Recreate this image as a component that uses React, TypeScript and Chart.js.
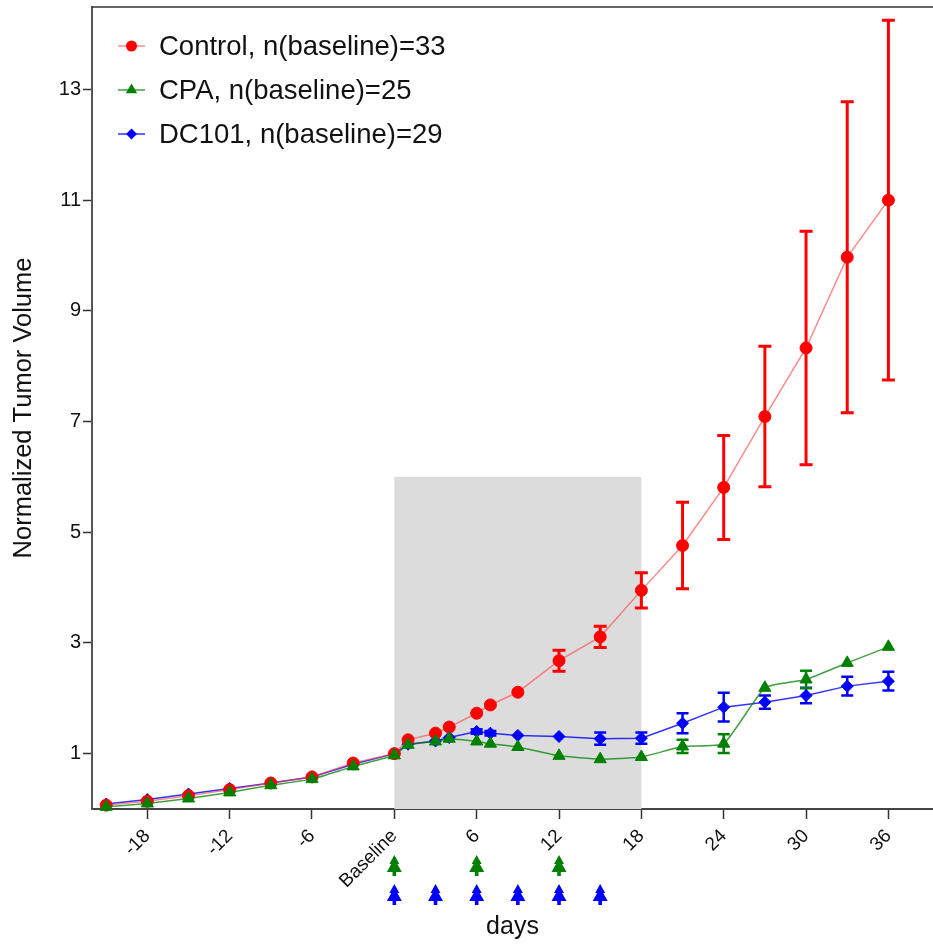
import React, { useEffect, useRef } from 'react';
import { Chart, registerables } from 'chart.js';

Chart.register(...registerables);

// ---------- data ----------
const days = [-21, -18, -15, -12, -9, -6, -3, 0, 1, 3, 4, 6, 7, 9, 12, 15, 18, 21, 24, 27, 30, 33, 36];
const controlMean = [0.07, 0.14, 0.24, 0.35, 0.47, 0.58, 0.83, 1.0, 1.25, 1.37, 1.48, 1.73, 1.88, 2.11, 2.68, 3.11, 3.95, 4.76, 5.81, 7.09, 8.33, 9.97, 11.0];
const controlErr = [0, 0, 0, 0, 0, 0, 0, 0, 0, 0, 0, 0, 0, 0, 0.19, 0.19, 0.32, 0.78, 0.94, 1.27, 2.11, 2.81, 3.25];
const cpaMean = [0.04, 0.1, 0.19, 0.3, 0.43, 0.54, 0.77, 0.97, 1.16, 1.22, 1.27, 1.22, 1.18, 1.12, 0.96, 0.9, 0.94, 1.13, 1.18, 2.19, 2.34, 2.64, 2.93];
const cpaErr = [0, 0, 0, 0, 0, 0, 0, 0, 0, 0, 0, 0, 0, 0, 0, 0, 0, 0.12, 0.17, 0, 0.16, 0, 0];
const dc101Mean = [0.09, 0.17, 0.27, 0.37, 0.47, 0.58, 0.81, 1.0, 1.17, 1.23, 1.29, 1.4, 1.37, 1.33, 1.31, 1.27, 1.28, 1.55, 1.84, 1.93, 2.05, 2.22, 2.31];
const dc101Err = [0, 0, 0, 0, 0, 0, 0, 0, 0, 0, 0, 0.04, 0.04, 0, 0, 0.11, 0.1, 0.18, 0.26, 0.12, 0.14, 0.17, 0.17];

const seriesLabels = ['Control, n(baseline)=33', 'CPA, n(baseline)=25', 'DC101, n(baseline)=29'];

const xTickValues = [-18, -12, -6, 0, 6, 12, 18, 24, 30, 36];
const yTickValues = [1, 3, 5, 7, 9, 11, 13];
const baselineLabel = 'Baseline';

const shadeDays = [0, 18];
const shadeValues = [0, 6];

const cpaDoseDays = [0, 6, 12];
const dc101DoseDays = [0, 3, 6, 9, 12, 15];

const FONT = '"Liberation Sans", Arial, Helvetica, sans-serif';

const RED = '#ff0000';
const RED_LINE = 'rgba(255,60,60,0.6)';
const GREEN = '#008000';
const GREEN_LINE = 'rgba(0,128,0,0.75)';
const BLUE = '#0000ff';
const BLUE_LINE = 'rgba(0,0,255,0.8)';

function toPoints(means: number[]) {
  return days.map((d, i) => ({ x: d, y: means[i] }));
}

function drawMarker(ctx: CanvasRenderingContext2D, style: string, x: number, y: number, r: number, color: string) {
  ctx.save();
  ctx.fillStyle = color;
  ctx.beginPath();
  if (style === 'circle') {
    ctx.arc(x, y, r, 0, Math.PI * 2);
  } else if (style === 'triangle') {
    ctx.moveTo(x, y - r);
    ctx.lineTo(x + r * 0.866, y + r * 0.5);
    ctx.lineTo(x - r * 0.866, y + r * 0.5);
  } else {
    ctx.moveTo(x, y - r);
    ctx.lineTo(x + r, y);
    ctx.lineTo(x, y + r);
    ctx.lineTo(x - r, y);
  }
  ctx.closePath();
  ctx.fill();
  ctx.restore();
}

const shadePlugin = {
  id: 'shade',
  beforeDatasetsDraw(chart: any) {
    const { ctx, scales } = chart;
    const x0 = scales.x.getPixelForValue(shadeDays[0]);
    const x1 = scales.x.getPixelForValue(shadeDays[1]);
    const y0 = scales.y.getPixelForValue(shadeValues[1]);
    const y1 = scales.y.getPixelForValue(shadeValues[0]);
    ctx.save();
    ctx.fillStyle = '#dcdcdc';
    ctx.fillRect(x0, y0, x1 - x0, y1 - y0);
    ctx.restore();
  },
};

const errorBarPlugin = {
  id: 'errorBars',
  afterDatasetDraw(chart: any, args: any) {
    const ds: any = chart.data.datasets[args.index];
    const errs: number[] = ds.errors || [];
    const { ctx, scales } = chart;
    ctx.save();
    ctx.strokeStyle = ds.errColor;
    ctx.lineWidth = ds.errWidth;
    ctx.lineCap = 'butt';
    ds.data.forEach((p: any, i: number) => {
      const e = errs[i];
      if (!e) return;
      const x = scales.x.getPixelForValue(p.x);
      const yt = scales.y.getPixelForValue(p.y + e);
      const yb = scales.y.getPixelForValue(p.y - e);
      const c = ds.capHalf;
      ctx.beginPath();
      ctx.moveTo(x, yt);
      ctx.lineTo(x, yb);
      ctx.moveTo(x - c, yt);
      ctx.lineTo(x + c, yt);
      ctx.moveTo(x - c, yb);
      ctx.lineTo(x + c, yb);
      ctx.stroke();
    });
    ctx.restore();
  },
};

const framePlugin = {
  id: 'frame',
  afterDraw(chart: any) {
    const { ctx, chartArea, scales } = chart;
    ctx.save();
    // top border
    ctx.strokeStyle = '#333';
    ctx.lineWidth = 1.5;
    ctx.beginPath();
    ctx.moveTo(chartArea.left, chartArea.top);
    ctx.lineTo(chartArea.right, chartArea.top);
    ctx.stroke();

    // dosing arrows
    const drawArrow = (x: number, top: number, color: string) => {
      ctx.fillStyle = color;
      ctx.beginPath();
      ctx.moveTo(x, top);
      ctx.lineTo(x + 5, top + 9);
      ctx.lineTo(x + 3, top + 9);
      ctx.lineTo(x + 7.5, top + 17);
      ctx.lineTo(x + 1.8, top + 17);
      ctx.lineTo(x + 1.8, top + 21);
      ctx.lineTo(x - 1.8, top + 21);
      ctx.lineTo(x - 1.8, top + 17);
      ctx.lineTo(x - 7.5, top + 17);
      ctx.lineTo(x - 3, top + 9);
      ctx.lineTo(x - 5, top + 9);
      ctx.closePath();
      ctx.fill();
    };
    cpaDoseDays.forEach((d) => drawArrow(scales.x.getPixelForValue(d), 855, GREEN));
    dc101DoseDays.forEach((d) => drawArrow(scales.x.getPixelForValue(d), 884, BLUE));

    // legend
    const rows = [
      { line: RED_LINE, color: RED, style: 'circle', r: 5.5 },
      { line: GREEN_LINE, color: GREEN, style: 'triangle', r: 6.5 },
      { line: BLUE_LINE, color: BLUE, style: 'diamond', r: 5.5 },
    ];
    ctx.font = `27.5px ${FONT}`;
    ctx.textBaseline = 'middle';
    ctx.textAlign = 'left';
    rows.forEach((row, i) => {
      const y = 46 + i * 44;
      ctx.strokeStyle = row.line;
      ctx.lineWidth = 1.5;
      ctx.beginPath();
      ctx.moveTo(118, y);
      ctx.lineTo(145, y);
      ctx.stroke();
      drawMarker(ctx, row.style, 131.5, y, row.r, row.color);
      ctx.fillStyle = '#111';
      ctx.fillText(chart.data.datasets[i].label, 159, y + 1);
    });
    ctx.restore();
  },
};

export default function App() {
  const canvasRef = useRef<HTMLCanvasElement | null>(null);

  useEffect(() => {
    const canvas = canvasRef.current;
    if (!canvas) return;
    const chart = new Chart(canvas, {
      type: 'line',
      data: {
        datasets: [
          {
            label: seriesLabels[0],
            data: toPoints(controlMean),
            borderColor: RED_LINE,
            borderWidth: 1.5,
            backgroundColor: RED,
            pointBackgroundColor: RED,
            pointBorderColor: RED,
            pointBorderWidth: 1,
            pointStyle: 'circle',
            pointRadius: 6,
            tension: 0,
            order: 1,
            clip: false,
            errors: controlErr,
            errColor: RED,
            errWidth: 3,
            capHalf: 6.5,
          } as any,
          {
            label: seriesLabels[1],
            data: toPoints(cpaMean),
            borderColor: GREEN_LINE,
            borderWidth: 1.5,
            backgroundColor: GREEN,
            pointBackgroundColor: GREEN,
            pointBorderColor: GREEN,
            pointBorderWidth: 1,
            pointStyle: 'triangle',
            pointRadius: 7,
            tension: 0.15,
            order: 0,
            clip: false,
            errors: cpaErr,
            errColor: GREEN,
            errWidth: 2.5,
            capHalf: 6,
          } as any,
          {
            label: seriesLabels[2],
            data: toPoints(dc101Mean),
            borderColor: BLUE_LINE,
            borderWidth: 1.5,
            backgroundColor: BLUE,
            pointBackgroundColor: BLUE,
            pointBorderColor: BLUE,
            pointBorderWidth: 1,
            pointStyle: 'rectRot',
            pointRadius: 6,
            tension: 0,
            order: 2,
            clip: false,
            errors: dc101Err,
            errColor: BLUE,
            errWidth: 2.5,
            capHalf: 6,
          } as any,
        ],
      },
      options: {
        responsive: false,
        animation: false,
        devicePixelRatio: 1,
        layout: { autoPadding: false, padding: { top: 7, left: 0, right: 0, bottom: 0 } },
        plugins: {
          legend: { display: false },
          tooltip: { enabled: false },
        },
        scales: {
          x: {
            type: 'linear',
            min: -22.03,
            max: 39.25,
            afterBuildTicks: (scale: any) => {
              scale.ticks = xTickValues.map((v) => ({ value: v }));
            },
            afterFit: (scale: any) => {
              scale.height = 143;
              scale.paddingLeft = 0;
              scale.paddingRight = 0;
            },
            ticks: {
              autoSkip: false,
              minRotation: 45,
              maxRotation: 45,
              padding: 6,
              color: '#111',
              font: { family: FONT, size: 19 },
              callback: (v: any) => (Number(v) === 0 ? baselineLabel : String(v)),
            },
            grid: {
              display: true,
              drawOnChartArea: false,
              drawTicks: true,
              tickLength: 10,
              tickWidth: 1.5,
              tickColor: '#333',
            },
            border: { display: true, color: '#444', width: 2 },
            title: {
              display: true,
              text: 'days',
              color: '#111',
              font: { family: FONT, size: 25 },
              padding: { top: 0, bottom: 10 },
            },
          },
          y: {
            type: 'linear',
            min: 0,
            max: 14.49,
            afterBuildTicks: (scale: any) => {
              scale.ticks = yTickValues.map((v) => ({ value: v }));
            },
            afterFit: (scale: any) => {
              scale.width = 92;
              scale.paddingTop = 0;
              scale.paddingBottom = 0;
            },
            ticks: {
              padding: 2,
              color: '#111',
              font: { family: FONT, size: 20 },
            },
            grid: {
              display: true,
              drawOnChartArea: false,
              drawTicks: true,
              tickLength: 9,
              tickWidth: 1.5,
              tickColor: '#333',
            },
            border: { display: true, color: '#555', width: 2 },
            title: {
              display: true,
              text: 'Normalized Tumor Volume',
              color: '#111',
              font: { family: FONT, size: 25.5 },
              padding: { top: 9, bottom: 0 },
            },
          },
        },
      },
      plugins: [shadePlugin, errorBarPlugin, framePlugin],
    });
    return () => chart.destroy();
  }, []);

  return (
    <div style={{ position: 'absolute', left: 0, top: 0, width: 933, height: 952, background: '#fff' }}>
      <canvas ref={canvasRef} width={933} height={952} style={{ width: 933, height: 952, display: 'block' }} />
    </div>
  );
}
